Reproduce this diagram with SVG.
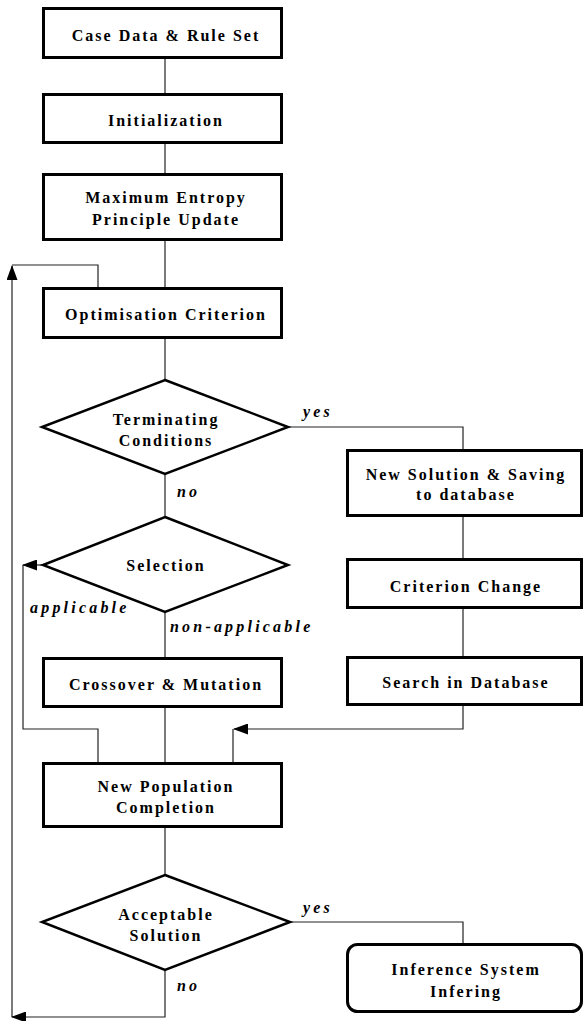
<svg xmlns="http://www.w3.org/2000/svg" width="584" height="1021" viewBox="0 0 584 1021">
<style>
.box{fill:#fff;stroke:#000;stroke-width:3}
.dia{fill:#fff;stroke:#000;stroke-width:2.5;stroke-linejoin:miter}
.t{font-family:"Liberation Serif","Times New Roman",serif;font-weight:bold;font-size:16px;letter-spacing:2px;text-anchor:middle;fill:#000}
.lbl{font-family:"Liberation Serif","Times New Roman",serif;font-weight:bold;font-style:italic;font-size:16px;letter-spacing:3.2px;fill:#000}
.c{fill:none;stroke:#222;stroke-width:1.2}
</style>
<defs>
<marker id="ah" markerUnits="userSpaceOnUse" markerWidth="15" markerHeight="11" refX="14" refY="5.5" orient="auto">
<path d="M0,0 L15,5.5 L0,11 z" fill="#000"/>
</marker>
</defs>
<g id="connectors">
<path class="c" d="M165,59 V93"/>
<path class="c" d="M165,144 V173"/>
<path class="c" d="M165,241 V287"/>
<path class="c" d="M165,339 V380"/>
<path class="c" d="M165,474 V517"/>
<path class="c" d="M165,612 V657"/>
<path class="c" d="M165,708 V762"/>
<path class="c" d="M165,828 V875"/>
<path class="c" d="M98,287 V265 H12"/>
<path class="c" d="M12,1017 V266" marker-end="url(#ah)"/>
<path class="c" d="M288,427 H463 V449"/>
<path class="c" d="M463,517 V558"/>
<path class="c" d="M463,609 V656"/>
<path class="c" d="M463,706 V729 H234" marker-end="url(#ah)"/>
<path class="c" d="M233,729 V762"/>
<path class="c" d="M43,565 H23" marker-end="url(#ah)"/>
<path class="c" d="M23,565 V729 H98 V762"/>
<path class="c" d="M290,922 H463 V943"/>
<path class="c" d="M165,970 V1017 H12" marker-end="url(#ah)"/>
</g>
<g id="n1"><rect class="box" x="43.5" y="8.5" width="238" height="49"/><text class="t" x="166" y="41">Case Data &amp; Rule Set</text></g>
<g id="n2"><rect class="box" x="43.5" y="94.5" width="238" height="48"/><text class="t" x="166" y="126">Initialization</text></g>
<g id="n3"><rect class="box" x="43.5" y="174.5" width="238" height="65"/><text class="t" x="166" y="203">Maximum Entropy</text><text class="t" x="166" y="225">Principle Update</text></g>
<g id="n4"><rect class="box" x="43.5" y="288.5" width="238" height="49"/><text class="t" x="166" y="320">Optimisation Criterion</text></g>
<g id="d1"><polygon class="dia" points="165,380 288,427 165,474 42,427"/><text class="t" x="166" y="425">Terminating</text><text class="t" x="166" y="446">Conditions</text></g>
<g id="n5"><rect class="box" x="347.5" y="450.5" width="234" height="65"/><text class="t" x="466" y="480">New Solution &amp; Saving</text><text class="t" x="466" y="500">to database</text></g>
<g id="n6"><rect class="box" x="347.5" y="559.5" width="234" height="48"/><text class="t" x="466" y="592">Criterion Change</text></g>
<g id="n7"><rect class="box" x="347.5" y="657.5" width="234" height="47"/><text class="t" x="466" y="688">Search in Database</text></g>
<g id="d2"><polygon class="dia" points="165,517 288,565 165,612 43,565"/><text class="t" x="166" y="571">Selection</text></g>
<g id="n8"><rect class="box" x="43.5" y="658.5" width="238" height="48"/><text class="t" x="166" y="690">Crossover &amp; Mutation</text></g>
<g id="n9"><rect class="box" x="43.5" y="763.5" width="238" height="63"/><text class="t" x="166" y="792">New Population</text><text class="t" x="166" y="813">Completion</text></g>
<g id="d3"><polygon class="dia" points="165,875 290,922 165,970 42,922"/><text class="t" x="166" y="920">Acceptable</text><text class="t" x="166" y="941">Solution</text></g>
<g id="n10"><rect class="box" x="347.5" y="944.5" width="234" height="67" rx="10" ry="10"/><text class="t" x="466" y="975">Inference System</text><text class="t" x="466" y="997">Infering</text></g>
<g id="labels">
<text class="lbl" x="303" y="417">yes</text>
<text class="lbl" x="177" y="497">no</text>
<text class="lbl" x="30" y="613">applicable</text>
<text class="lbl" x="170" y="632">non-applicable</text>
<text class="lbl" x="303" y="913">yes</text>
<text class="lbl" x="177" y="991">no</text>
</g>
</svg>
